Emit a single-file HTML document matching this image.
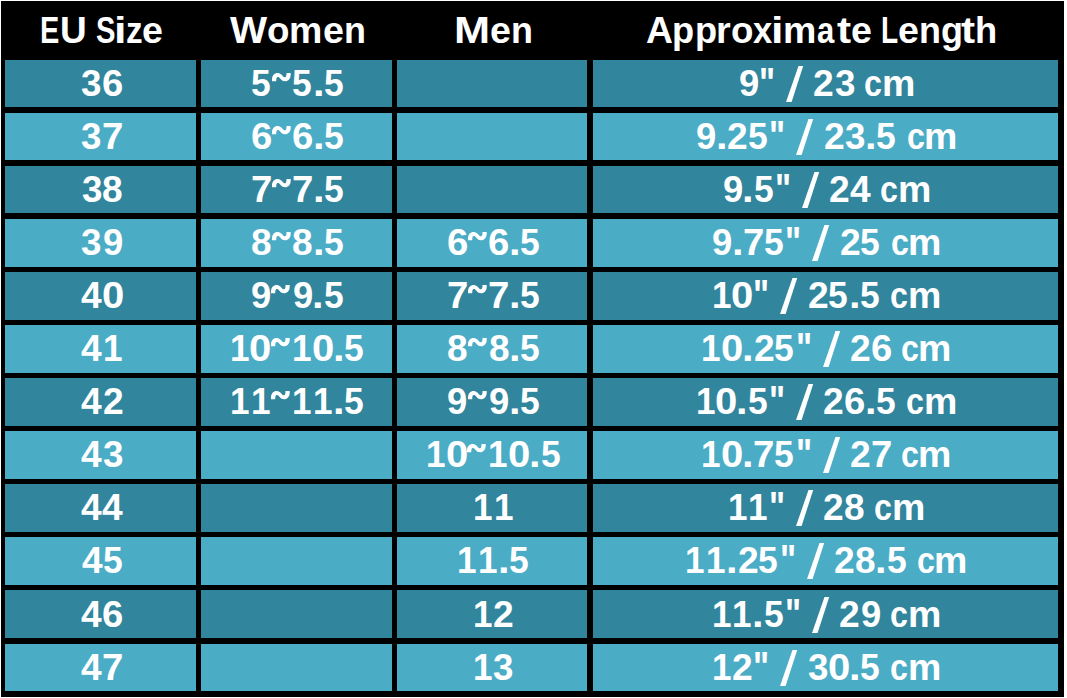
<!DOCTYPE html>
<html><head><meta charset="utf-8"><title>EU Size Chart</title><style>
html,body{margin:0;padding:0;background:#fff}
body{width:1067px;height:698px;position:relative;overflow:hidden}
#bg{position:absolute;left:1px;top:1px;width:1063px;height:696px;background:#000}
.c{position:absolute}
.d{background:#31859c}
.l{background:#4bacc6}
b{position:absolute;font-family:"Liberation Sans",sans-serif;font-weight:bold;font-size:36.8px;line-height:50px;color:#fff;transform-origin:0 0;white-space:pre}
svg{position:absolute;overflow:visible}
</style></head><body>
<div id="bg"></div>
<div class="c d" style="left:5px;top:60px;width:191px;height:47px"></div>
<div class="c d" style="left:201px;top:60px;width:191px;height:47px"></div>
<div class="c d" style="left:397px;top:60px;width:190px;height:47px"></div>
<div class="c d" style="left:593px;top:60px;width:465px;height:47px"></div>
<div class="c l" style="left:5px;top:113px;width:191px;height:47px"></div>
<div class="c l" style="left:201px;top:113px;width:191px;height:47px"></div>
<div class="c l" style="left:397px;top:113px;width:190px;height:47px"></div>
<div class="c l" style="left:593px;top:113px;width:465px;height:47px"></div>
<div class="c d" style="left:5px;top:166px;width:191px;height:47px"></div>
<div class="c d" style="left:201px;top:166px;width:191px;height:47px"></div>
<div class="c d" style="left:397px;top:166px;width:190px;height:47px"></div>
<div class="c d" style="left:593px;top:166px;width:465px;height:47px"></div>
<div class="c l" style="left:5px;top:219px;width:191px;height:48px"></div>
<div class="c l" style="left:201px;top:219px;width:191px;height:48px"></div>
<div class="c l" style="left:397px;top:219px;width:190px;height:48px"></div>
<div class="c l" style="left:593px;top:219px;width:465px;height:48px"></div>
<div class="c d" style="left:5px;top:272px;width:191px;height:48px"></div>
<div class="c d" style="left:201px;top:272px;width:191px;height:48px"></div>
<div class="c d" style="left:397px;top:272px;width:190px;height:48px"></div>
<div class="c d" style="left:593px;top:272px;width:465px;height:48px"></div>
<div class="c l" style="left:5px;top:325px;width:191px;height:48px"></div>
<div class="c l" style="left:201px;top:325px;width:191px;height:48px"></div>
<div class="c l" style="left:397px;top:325px;width:190px;height:48px"></div>
<div class="c l" style="left:593px;top:325px;width:465px;height:48px"></div>
<div class="c d" style="left:5px;top:378px;width:191px;height:48px"></div>
<div class="c d" style="left:201px;top:378px;width:191px;height:48px"></div>
<div class="c d" style="left:397px;top:378px;width:190px;height:48px"></div>
<div class="c d" style="left:593px;top:378px;width:465px;height:48px"></div>
<div class="c l" style="left:5px;top:431px;width:191px;height:48px"></div>
<div class="c l" style="left:201px;top:431px;width:191px;height:48px"></div>
<div class="c l" style="left:397px;top:431px;width:190px;height:48px"></div>
<div class="c l" style="left:593px;top:431px;width:465px;height:48px"></div>
<div class="c d" style="left:5px;top:484px;width:191px;height:48px"></div>
<div class="c d" style="left:201px;top:484px;width:191px;height:48px"></div>
<div class="c d" style="left:397px;top:484px;width:190px;height:48px"></div>
<div class="c d" style="left:593px;top:484px;width:465px;height:48px"></div>
<div class="c l" style="left:5px;top:537px;width:191px;height:48px"></div>
<div class="c l" style="left:201px;top:537px;width:191px;height:48px"></div>
<div class="c l" style="left:397px;top:537px;width:190px;height:48px"></div>
<div class="c l" style="left:593px;top:537px;width:465px;height:48px"></div>
<div class="c d" style="left:5px;top:590px;width:191px;height:48px"></div>
<div class="c d" style="left:201px;top:590px;width:191px;height:48px"></div>
<div class="c d" style="left:397px;top:590px;width:190px;height:48px"></div>
<div class="c d" style="left:593px;top:590px;width:465px;height:48px"></div>
<div class="c l" style="left:5px;top:644px;width:191px;height:47px"></div>
<div class="c l" style="left:201px;top:644px;width:191px;height:47px"></div>
<div class="c l" style="left:397px;top:644px;width:190px;height:47px"></div>
<div class="c l" style="left:593px;top:644px;width:465px;height:47px"></div>
<b style="left:40.18px;top:6px;transform:scaleX(0.785)">E</b>
<b style="left:59.96px;top:6px;transform:scaleX(1.004)">U</b>
<b style="left:96.01px;top:6px;transform:scaleX(0.793)">S</b>
<b style="left:114.33px;top:6px;transform:scaleX(1.220)">i</b>
<b style="left:125.64px;top:6px;transform:scaleX(0.903)">z</b>
<b style="left:142.05px;top:6px;transform:scaleX(1.023)">e</b>
<b style="left:229.65px;top:6px;transform:scaleX(1.067)">W</b>
<b style="left:266.83px;top:6px;transform:scaleX(0.999)">o</b>
<b style="left:289.33px;top:6px;transform:scaleX(1.019)">m</b>
<b style="left:322.62px;top:6px;transform:scaleX(1.023)">e</b>
<b style="left:343.73px;top:6px;transform:scaleX(0.977)">n</b>
<b style="left:453.99px;top:6px;transform:scaleX(1.177)">M</b>
<b style="left:489.94px;top:6px;transform:scaleX(1.023)">e</b>
<b style="left:511.06px;top:6px;transform:scaleX(0.977)">n</b>
<b style="left:646.29px;top:6px;transform:scaleX(1.013)">A</b>
<b style="left:672.43px;top:6px;transform:scaleX(0.984)">p</b>
<b style="left:694.60px;top:6px;transform:scaleX(0.984)">p</b>
<b style="left:716.40px;top:6px;transform:scaleX(1.023)">r</b>
<b style="left:731.13px;top:6px;transform:scaleX(0.999)">o</b>
<b style="left:753.27px;top:6px;transform:scaleX(0.942)">x</b>
<b style="left:771.15px;top:6px;transform:scaleX(1.220)">i</b>
<b style="left:782.75px;top:6px;transform:scaleX(1.019)">m</b>
<b style="left:816.80px;top:6px;transform:scaleX(0.844)">a</b>
<b style="left:836.52px;top:6px;transform:scaleX(1.150)">t</b>
<b style="left:850.75px;top:6px;transform:scaleX(1.023)">e</b>
<b style="left:881.38px;top:6px;transform:scaleX(0.764)">L</b>
<b style="left:898.34px;top:6px;transform:scaleX(1.023)">e</b>
<b style="left:919.45px;top:6px;transform:scaleX(0.977)">n</b>
<b style="left:940.93px;top:6px;transform:scaleX(0.978)">g</b>
<b style="left:960.97px;top:6px;transform:scaleX(1.150)">t</b>
<b style="left:975.34px;top:6px;transform:scaleX(0.987)">h</b>
<b style="left:81.34px;top:59px;transform:scaleX(0.999)">3</b>
<b style="left:101.73px;top:59px;transform:scaleX(1.039)">6</b>
<b style="left:250.69px;top:59px;transform:scaleX(0.962)">5</b>
<svg style="left:271.89px;top:73.10px" width="18.7" height="8.3"><path fill="#fff" transform="scale(1.0000 1.0000)" d="M0 8.3L0 6.5C0 2.5 2.5 0 5.5 0C8 0 9.5 1.5 10.5 2.8C11.5 4 12.2 4.3 13 4.3C14 4.3 14.5 3 14.5 0L18.7 0L18.7 1.8C18.7 5.8 16.2 8.3 13.2 8.3C10.7 8.3 9.2 6.8 8.2 5.5C7.2 4.3 6.5 4 5.7 4C4.7 4 4.2 5.3 4.2 8.3Z"/></svg>
<b style="left:292.19px;top:59px;transform:scaleX(0.962)">5</b>
<b style="left:312.87px;top:59px;transform:scaleX(1.129)">.</b>
<b style="left:324.16px;top:59px;transform:scaleX(0.962)">5</b>
<b style="left:738.68px;top:59px;transform:scaleX(0.990)">9</b>
<b style="left:758.99px;top:55.28px;transform:scale(0.922,1.139)">"</b>
<svg style="left:785.94px;top:66.30px" width="17.2" height="36.0"><path fill="#fff" d="M12.50 0L17.20 0L5.60 36.00L0 36.00Z"/></svg>
<b style="left:813.28px;top:59px;transform:scaleX(1.011)">2</b>
<b style="left:834.60px;top:59px;transform:scaleX(0.999)">3</b>
<b style="left:864.18px;top:59px;transform:scaleX(0.875)">c</b>
<b style="left:881.72px;top:59px;transform:scaleX(1.019)">m</b>
<b style="left:81.43px;top:112px;transform:scaleX(0.999)">3</b>
<b style="left:101.80px;top:112px;transform:scaleX(1.042)">7</b>
<b style="left:250.72px;top:112px;transform:scaleX(1.039)">6</b>
<svg style="left:271.81px;top:126.10px" width="18.7" height="8.3"><path fill="#fff" transform="scale(1.0000 1.0000)" d="M0 8.3L0 6.5C0 2.5 2.5 0 5.5 0C8 0 9.5 1.5 10.5 2.8C11.5 4 12.2 4.3 13 4.3C14 4.3 14.5 3 14.5 0L18.7 0L18.7 1.8C18.7 5.8 16.2 8.3 13.2 8.3C10.7 8.3 9.2 6.8 8.2 5.5C7.2 4.3 6.5 4 5.7 4C4.7 4 4.2 5.3 4.2 8.3Z"/></svg>
<b style="left:292.22px;top:112px;transform:scaleX(1.039)">6</b>
<b style="left:312.79px;top:112px;transform:scaleX(1.129)">.</b>
<b style="left:324.08px;top:112px;transform:scaleX(0.962)">5</b>
<b style="left:696.25px;top:112px;transform:scaleX(0.990)">9</b>
<b style="left:715.81px;top:112px;transform:scaleX(1.129)">.</b>
<b style="left:727.35px;top:112px;transform:scaleX(1.011)">2</b>
<b style="left:748.03px;top:112px;transform:scaleX(0.962)">5</b>
<b style="left:769.45px;top:108.28px;transform:scale(0.922,1.139)">"</b>
<svg style="left:796.41px;top:119.30px" width="17.2" height="36.0"><path fill="#fff" d="M12.50 0L17.20 0L5.60 36.00L0 36.00Z"/></svg>
<b style="left:823.75px;top:112px;transform:scaleX(1.011)">2</b>
<b style="left:845.07px;top:112px;transform:scaleX(0.999)">3</b>
<b style="left:865.10px;top:112px;transform:scaleX(1.129)">.</b>
<b style="left:876.39px;top:112px;transform:scaleX(0.962)">5</b>
<b style="left:906.61px;top:112px;transform:scaleX(0.875)">c</b>
<b style="left:924.15px;top:112px;transform:scaleX(1.019)">m</b>
<b style="left:81.50px;top:165px;transform:scaleX(0.999)">3</b>
<b style="left:101.96px;top:165px;transform:scaleX(1.007)">8</b>
<b style="left:250.55px;top:165px;transform:scaleX(1.042)">7</b>
<svg style="left:271.66px;top:179.10px" width="18.7" height="8.3"><path fill="#fff" transform="scale(1.0000 1.0000)" d="M0 8.3L0 6.5C0 2.5 2.5 0 5.5 0C8 0 9.5 1.5 10.5 2.8C11.5 4 12.2 4.3 13 4.3C14 4.3 14.5 3 14.5 0L18.7 0L18.7 1.8C18.7 5.8 16.2 8.3 13.2 8.3C10.7 8.3 9.2 6.8 8.2 5.5C7.2 4.3 6.5 4 5.7 4C4.7 4 4.2 5.3 4.2 8.3Z"/></svg>
<b style="left:292.05px;top:165px;transform:scaleX(1.042)">7</b>
<b style="left:312.64px;top:165px;transform:scaleX(1.129)">.</b>
<b style="left:323.93px;top:165px;transform:scaleX(0.962)">5</b>
<b style="left:722.70px;top:165px;transform:scaleX(0.990)">9</b>
<b style="left:742.26px;top:165px;transform:scaleX(1.129)">.</b>
<b style="left:753.55px;top:165px;transform:scaleX(0.962)">5</b>
<b style="left:774.97px;top:161.28px;transform:scale(0.922,1.139)">"</b>
<svg style="left:801.93px;top:172.30px" width="17.2" height="36.0"><path fill="#fff" d="M12.50 0L17.20 0L5.60 36.00L0 36.00Z"/></svg>
<b style="left:829.26px;top:165px;transform:scaleX(1.011)">2</b>
<b style="left:849.74px;top:165px;transform:scaleX(1.010)">4</b>
<b style="left:880.16px;top:165px;transform:scaleX(0.875)">c</b>
<b style="left:897.70px;top:165px;transform:scaleX(1.019)">m</b>
<b style="left:81.33px;top:218px;transform:scaleX(0.999)">3</b>
<b style="left:102.73px;top:218px;transform:scaleX(0.990)">9</b>
<b style="left:250.85px;top:218px;transform:scaleX(1.007)">8</b>
<svg style="left:271.87px;top:232.10px" width="18.7" height="8.3"><path fill="#fff" transform="scale(1.0000 1.0000)" d="M0 8.3L0 6.5C0 2.5 2.5 0 5.5 0C8 0 9.5 1.5 10.5 2.8C11.5 4 12.2 4.3 13 4.3C14 4.3 14.5 3 14.5 0L18.7 0L18.7 1.8C18.7 5.8 16.2 8.3 13.2 8.3C10.7 8.3 9.2 6.8 8.2 5.5C7.2 4.3 6.5 4 5.7 4C4.7 4 4.2 5.3 4.2 8.3Z"/></svg>
<b style="left:292.35px;top:218px;transform:scaleX(1.007)">8</b>
<b style="left:312.85px;top:218px;transform:scaleX(1.129)">.</b>
<b style="left:324.14px;top:218px;transform:scaleX(0.962)">5</b>
<b style="left:446.92px;top:218px;transform:scaleX(1.039)">6</b>
<svg style="left:468.01px;top:232.10px" width="18.7" height="8.3"><path fill="#fff" transform="scale(1.0000 1.0000)" d="M0 8.3L0 6.5C0 2.5 2.5 0 5.5 0C8 0 9.5 1.5 10.5 2.8C11.5 4 12.2 4.3 13 4.3C14 4.3 14.5 3 14.5 0L18.7 0L18.7 1.8C18.7 5.8 16.2 8.3 13.2 8.3C10.7 8.3 9.2 6.8 8.2 5.5C7.2 4.3 6.5 4 5.7 4C4.7 4 4.2 5.3 4.2 8.3Z"/></svg>
<b style="left:488.42px;top:218px;transform:scaleX(1.039)">6</b>
<b style="left:508.99px;top:218px;transform:scaleX(1.129)">.</b>
<b style="left:520.28px;top:218px;transform:scaleX(0.962)">5</b>
<b style="left:712.23px;top:218px;transform:scaleX(0.990)">9</b>
<b style="left:731.79px;top:218px;transform:scaleX(1.129)">.</b>
<b style="left:743.17px;top:218px;transform:scaleX(1.042)">7</b>
<b style="left:764.02px;top:218px;transform:scaleX(0.962)">5</b>
<b style="left:785.44px;top:214.28px;transform:scale(0.922,1.139)">"</b>
<svg style="left:812.39px;top:225.30px" width="17.2" height="36.0"><path fill="#fff" d="M12.50 0L17.20 0L5.60 36.00L0 36.00Z"/></svg>
<b style="left:839.73px;top:218px;transform:scaleX(1.011)">2</b>
<b style="left:860.41px;top:218px;transform:scaleX(0.962)">5</b>
<b style="left:890.63px;top:218px;transform:scaleX(0.875)">c</b>
<b style="left:908.17px;top:218px;transform:scaleX(1.019)">m</b>
<b style="left:81.07px;top:271px;transform:scaleX(1.010)">4</b>
<b style="left:101.60px;top:271px;transform:scaleX(1.089)">0</b>
<b style="left:251.28px;top:271px;transform:scaleX(0.990)">9</b>
<svg style="left:271.37px;top:285.10px" width="18.7" height="8.3"><path fill="#fff" transform="scale(1.0000 1.0000)" d="M0 8.3L0 6.5C0 2.5 2.5 0 5.5 0C8 0 9.5 1.5 10.5 2.8C11.5 4 12.2 4.3 13 4.3C14 4.3 14.5 3 14.5 0L18.7 0L18.7 1.8C18.7 5.8 16.2 8.3 13.2 8.3C10.7 8.3 9.2 6.8 8.2 5.5C7.2 4.3 6.5 4 5.7 4C4.7 4 4.2 5.3 4.2 8.3Z"/></svg>
<b style="left:292.78px;top:271px;transform:scaleX(0.990)">9</b>
<b style="left:312.35px;top:271px;transform:scaleX(1.129)">.</b>
<b style="left:323.63px;top:271px;transform:scaleX(0.962)">5</b>
<b style="left:446.75px;top:271px;transform:scaleX(1.042)">7</b>
<svg style="left:467.86px;top:285.10px" width="18.7" height="8.3"><path fill="#fff" transform="scale(1.0000 1.0000)" d="M0 8.3L0 6.5C0 2.5 2.5 0 5.5 0C8 0 9.5 1.5 10.5 2.8C11.5 4 12.2 4.3 13 4.3C14 4.3 14.5 3 14.5 0L18.7 0L18.7 1.8C18.7 5.8 16.2 8.3 13.2 8.3C10.7 8.3 9.2 6.8 8.2 5.5C7.2 4.3 6.5 4 5.7 4C4.7 4 4.2 5.3 4.2 8.3Z"/></svg>
<b style="left:488.25px;top:271px;transform:scaleX(1.042)">7</b>
<b style="left:508.84px;top:271px;transform:scaleX(1.129)">.</b>
<b style="left:520.13px;top:271px;transform:scaleX(0.962)">5</b>
<b style="left:711.56px;top:271px;transform:scaleX(0.954)">1</b>
<b style="left:731.18px;top:271px;transform:scaleX(1.089)">0</b>
<b style="left:753.21px;top:267.28px;transform:scale(0.922,1.139)">"</b>
<svg style="left:780.17px;top:278.30px" width="17.2" height="36.0"><path fill="#fff" d="M12.50 0L17.20 0L5.60 36.00L0 36.00Z"/></svg>
<b style="left:807.50px;top:271px;transform:scaleX(1.011)">2</b>
<b style="left:828.18px;top:271px;transform:scaleX(0.962)">5</b>
<b style="left:848.86px;top:271px;transform:scaleX(1.129)">.</b>
<b style="left:860.15px;top:271px;transform:scaleX(0.962)">5</b>
<b style="left:890.37px;top:271px;transform:scaleX(0.875)">c</b>
<b style="left:907.91px;top:271px;transform:scaleX(1.019)">m</b>
<b style="left:81.43px;top:324px;transform:scaleX(1.010)">4</b>
<b style="left:103.27px;top:324px;transform:scaleX(0.954)">1</b>
<b style="left:229.68px;top:324px;transform:scaleX(0.954)">1</b>
<b style="left:249.30px;top:324px;transform:scaleX(1.089)">0</b>
<svg style="left:271.11px;top:338.10px" width="18.7" height="8.3"><path fill="#fff" transform="scale(1.0000 1.0000)" d="M0 8.3L0 6.5C0 2.5 2.5 0 5.5 0C8 0 9.5 1.5 10.5 2.8C11.5 4 12.2 4.3 13 4.3C14 4.3 14.5 3 14.5 0L18.7 0L18.7 1.8C18.7 5.8 16.2 8.3 13.2 8.3C10.7 8.3 9.2 6.8 8.2 5.5C7.2 4.3 6.5 4 5.7 4C4.7 4 4.2 5.3 4.2 8.3Z"/></svg>
<b style="left:292.11px;top:324px;transform:scaleX(0.954)">1</b>
<b style="left:311.73px;top:324px;transform:scaleX(1.089)">0</b>
<b style="left:333.02px;top:324px;transform:scaleX(1.129)">.</b>
<b style="left:344.30px;top:324px;transform:scaleX(0.962)">5</b>
<b style="left:447.05px;top:324px;transform:scaleX(1.007)">8</b>
<svg style="left:468.07px;top:338.10px" width="18.7" height="8.3"><path fill="#fff" transform="scale(1.0000 1.0000)" d="M0 8.3L0 6.5C0 2.5 2.5 0 5.5 0C8 0 9.5 1.5 10.5 2.8C11.5 4 12.2 4.3 13 4.3C14 4.3 14.5 3 14.5 0L18.7 0L18.7 1.8C18.7 5.8 16.2 8.3 13.2 8.3C10.7 8.3 9.2 6.8 8.2 5.5C7.2 4.3 6.5 4 5.7 4C4.7 4 4.2 5.3 4.2 8.3Z"/></svg>
<b style="left:488.55px;top:324px;transform:scaleX(1.007)">8</b>
<b style="left:509.05px;top:324px;transform:scaleX(1.129)">.</b>
<b style="left:520.34px;top:324px;transform:scaleX(0.962)">5</b>
<b style="left:701.10px;top:324px;transform:scaleX(0.954)">1</b>
<b style="left:720.71px;top:324px;transform:scaleX(1.089)">0</b>
<b style="left:742.00px;top:324px;transform:scaleX(1.129)">.</b>
<b style="left:753.54px;top:324px;transform:scaleX(1.011)">2</b>
<b style="left:774.22px;top:324px;transform:scaleX(0.962)">5</b>
<b style="left:795.64px;top:320.28px;transform:scale(0.922,1.139)">"</b>
<svg style="left:822.60px;top:331.30px" width="17.2" height="36.0"><path fill="#fff" d="M12.50 0L17.20 0L5.60 36.00L0 36.00Z"/></svg>
<b style="left:849.93px;top:324px;transform:scaleX(1.011)">2</b>
<b style="left:870.72px;top:324px;transform:scaleX(1.039)">6</b>
<b style="left:900.83px;top:324px;transform:scaleX(0.875)">c</b>
<b style="left:918.37px;top:324px;transform:scaleX(1.019)">m</b>
<b style="left:81.37px;top:377px;transform:scaleX(1.010)">4</b>
<b style="left:102.75px;top:377px;transform:scaleX(1.011)">2</b>
<b style="left:229.68px;top:377px;transform:scaleX(0.954)">1</b>
<b style="left:250.61px;top:377px;transform:scaleX(0.954)">1</b>
<svg style="left:271.11px;top:391.10px" width="18.7" height="8.3"><path fill="#fff" transform="scale(1.0000 1.0000)" d="M0 8.3L0 6.5C0 2.5 2.5 0 5.5 0C8 0 9.5 1.5 10.5 2.8C11.5 4 12.2 4.3 13 4.3C14 4.3 14.5 3 14.5 0L18.7 0L18.7 1.8C18.7 5.8 16.2 8.3 13.2 8.3C10.7 8.3 9.2 6.8 8.2 5.5C7.2 4.3 6.5 4 5.7 4C4.7 4 4.2 5.3 4.2 8.3Z"/></svg>
<b style="left:292.11px;top:377px;transform:scaleX(0.954)">1</b>
<b style="left:313.04px;top:377px;transform:scaleX(0.954)">1</b>
<b style="left:333.02px;top:377px;transform:scaleX(1.129)">.</b>
<b style="left:344.30px;top:377px;transform:scaleX(0.962)">5</b>
<b style="left:447.48px;top:377px;transform:scaleX(0.990)">9</b>
<svg style="left:467.57px;top:391.10px" width="18.7" height="8.3"><path fill="#fff" transform="scale(1.0000 1.0000)" d="M0 8.3L0 6.5C0 2.5 2.5 0 5.5 0C8 0 9.5 1.5 10.5 2.8C11.5 4 12.2 4.3 13 4.3C14 4.3 14.5 3 14.5 0L18.7 0L18.7 1.8C18.7 5.8 16.2 8.3 13.2 8.3C10.7 8.3 9.2 6.8 8.2 5.5C7.2 4.3 6.5 4 5.7 4C4.7 4 4.2 5.3 4.2 8.3Z"/></svg>
<b style="left:488.98px;top:377px;transform:scaleX(0.990)">9</b>
<b style="left:508.55px;top:377px;transform:scaleX(1.129)">.</b>
<b style="left:519.83px;top:377px;transform:scaleX(0.962)">5</b>
<b style="left:695.58px;top:377px;transform:scaleX(0.954)">1</b>
<b style="left:715.20px;top:377px;transform:scaleX(1.089)">0</b>
<b style="left:736.48px;top:377px;transform:scaleX(1.129)">.</b>
<b style="left:747.77px;top:377px;transform:scaleX(0.962)">5</b>
<b style="left:769.19px;top:373.28px;transform:scale(0.922,1.139)">"</b>
<svg style="left:796.15px;top:384.30px" width="17.2" height="36.0"><path fill="#fff" d="M12.50 0L17.20 0L5.60 36.00L0 36.00Z"/></svg>
<b style="left:823.48px;top:377px;transform:scaleX(1.011)">2</b>
<b style="left:844.27px;top:377px;transform:scaleX(1.039)">6</b>
<b style="left:864.84px;top:377px;transform:scaleX(1.129)">.</b>
<b style="left:876.13px;top:377px;transform:scaleX(0.962)">5</b>
<b style="left:906.35px;top:377px;transform:scaleX(0.875)">c</b>
<b style="left:923.89px;top:377px;transform:scaleX(1.019)">m</b>
<b style="left:81.23px;top:430px;transform:scaleX(1.010)">4</b>
<b style="left:103.00px;top:430px;transform:scaleX(0.999)">3</b>
<b style="left:425.88px;top:430px;transform:scaleX(0.954)">1</b>
<b style="left:445.50px;top:430px;transform:scaleX(1.089)">0</b>
<svg style="left:467.31px;top:444.10px" width="18.7" height="8.3"><path fill="#fff" transform="scale(1.0000 1.0000)" d="M0 8.3L0 6.5C0 2.5 2.5 0 5.5 0C8 0 9.5 1.5 10.5 2.8C11.5 4 12.2 4.3 13 4.3C14 4.3 14.5 3 14.5 0L18.7 0L18.7 1.8C18.7 5.8 16.2 8.3 13.2 8.3C10.7 8.3 9.2 6.8 8.2 5.5C7.2 4.3 6.5 4 5.7 4C4.7 4 4.2 5.3 4.2 8.3Z"/></svg>
<b style="left:488.31px;top:430px;transform:scaleX(0.954)">1</b>
<b style="left:507.93px;top:430px;transform:scaleX(1.089)">0</b>
<b style="left:529.22px;top:430px;transform:scaleX(1.129)">.</b>
<b style="left:540.50px;top:430px;transform:scaleX(0.962)">5</b>
<b style="left:701.10px;top:430px;transform:scaleX(0.954)">1</b>
<b style="left:720.71px;top:430px;transform:scaleX(1.089)">0</b>
<b style="left:742.00px;top:430px;transform:scaleX(1.129)">.</b>
<b style="left:753.37px;top:430px;transform:scaleX(1.042)">7</b>
<b style="left:774.22px;top:430px;transform:scaleX(0.962)">5</b>
<b style="left:795.64px;top:426.28px;transform:scale(0.922,1.139)">"</b>
<svg style="left:822.60px;top:437.30px" width="17.2" height="36.0"><path fill="#fff" d="M12.50 0L17.20 0L5.60 36.00L0 36.00Z"/></svg>
<b style="left:849.93px;top:430px;transform:scaleX(1.011)">2</b>
<b style="left:870.70px;top:430px;transform:scaleX(1.042)">7</b>
<b style="left:900.83px;top:430px;transform:scaleX(0.875)">c</b>
<b style="left:918.37px;top:430px;transform:scaleX(1.019)">m</b>
<b style="left:80.96px;top:483px;transform:scaleX(1.010)">4</b>
<b style="left:101.90px;top:483px;transform:scaleX(1.010)">4</b>
<b style="left:472.80px;top:483px;transform:scaleX(0.954)">1</b>
<b style="left:493.74px;top:483px;transform:scaleX(0.954)">1</b>
<b style="left:727.54px;top:483px;transform:scaleX(0.954)">1</b>
<b style="left:748.48px;top:483px;transform:scaleX(0.954)">1</b>
<b style="left:769.19px;top:479.28px;transform:scale(0.922,1.139)">"</b>
<svg style="left:796.15px;top:490.30px" width="17.2" height="36.0"><path fill="#fff" d="M12.50 0L17.20 0L5.60 36.00L0 36.00Z"/></svg>
<b style="left:823.48px;top:483px;transform:scaleX(1.011)">2</b>
<b style="left:844.34px;top:483px;transform:scaleX(1.007)">8</b>
<b style="left:874.38px;top:483px;transform:scaleX(0.875)">c</b>
<b style="left:891.93px;top:483px;transform:scaleX(1.019)">m</b>
<b style="left:81.70px;top:536px;transform:scaleX(1.010)">4</b>
<b style="left:102.84px;top:536px;transform:scaleX(0.962)">5</b>
<b style="left:457.10px;top:536px;transform:scaleX(0.954)">1</b>
<b style="left:478.03px;top:536px;transform:scaleX(0.954)">1</b>
<b style="left:498.00px;top:536px;transform:scaleX(1.129)">.</b>
<b style="left:509.29px;top:536px;transform:scaleX(0.962)">5</b>
<b style="left:685.11px;top:536px;transform:scaleX(0.954)">1</b>
<b style="left:706.05px;top:536px;transform:scaleX(0.954)">1</b>
<b style="left:726.02px;top:536px;transform:scaleX(1.129)">.</b>
<b style="left:737.56px;top:536px;transform:scaleX(1.011)">2</b>
<b style="left:758.24px;top:536px;transform:scaleX(0.962)">5</b>
<b style="left:779.66px;top:532.28px;transform:scale(0.922,1.139)">"</b>
<svg style="left:806.61px;top:543.30px" width="17.2" height="36.0"><path fill="#fff" d="M12.50 0L17.20 0L5.60 36.00L0 36.00Z"/></svg>
<b style="left:833.95px;top:536px;transform:scaleX(1.011)">2</b>
<b style="left:854.81px;top:536px;transform:scaleX(1.007)">8</b>
<b style="left:875.31px;top:536px;transform:scaleX(1.129)">.</b>
<b style="left:886.59px;top:536px;transform:scaleX(0.962)">5</b>
<b style="left:916.81px;top:536px;transform:scaleX(0.875)">c</b>
<b style="left:934.35px;top:536px;transform:scaleX(1.019)">m</b>
<b style="left:81.10px;top:590px;transform:scaleX(1.010)">4</b>
<b style="left:102.34px;top:590px;transform:scaleX(1.039)">6</b>
<b style="left:472.74px;top:590px;transform:scaleX(0.954)">1</b>
<b style="left:493.22px;top:590px;transform:scaleX(1.011)">2</b>
<b style="left:711.56px;top:590px;transform:scaleX(0.954)">1</b>
<b style="left:732.49px;top:590px;transform:scaleX(0.954)">1</b>
<b style="left:752.46px;top:590px;transform:scaleX(1.129)">.</b>
<b style="left:763.75px;top:590px;transform:scaleX(0.962)">5</b>
<b style="left:785.17px;top:586.28px;transform:scale(0.922,1.139)">"</b>
<svg style="left:812.13px;top:597.30px" width="17.2" height="36.0"><path fill="#fff" d="M12.50 0L17.20 0L5.60 36.00L0 36.00Z"/></svg>
<b style="left:839.47px;top:590px;transform:scaleX(1.011)">2</b>
<b style="left:861.26px;top:590px;transform:scaleX(0.990)">9</b>
<b style="left:890.37px;top:590px;transform:scaleX(0.875)">c</b>
<b style="left:907.91px;top:590px;transform:scaleX(1.019)">m</b>
<b style="left:81.20px;top:643px;transform:scaleX(1.010)">4</b>
<b style="left:102.42px;top:643px;transform:scaleX(1.042)">7</b>
<b style="left:472.60px;top:643px;transform:scaleX(0.954)">1</b>
<b style="left:493.47px;top:643px;transform:scaleX(0.999)">3</b>
<b style="left:711.56px;top:643px;transform:scaleX(0.954)">1</b>
<b style="left:732.04px;top:643px;transform:scaleX(1.011)">2</b>
<b style="left:753.21px;top:639.28px;transform:scale(0.922,1.139)">"</b>
<svg style="left:780.17px;top:650.30px" width="17.2" height="36.0"><path fill="#fff" d="M12.50 0L17.20 0L5.60 36.00L0 36.00Z"/></svg>
<b style="left:807.89px;top:643px;transform:scaleX(0.999)">3</b>
<b style="left:827.57px;top:643px;transform:scaleX(1.089)">0</b>
<b style="left:848.86px;top:643px;transform:scaleX(1.129)">.</b>
<b style="left:860.15px;top:643px;transform:scaleX(0.962)">5</b>
<b style="left:890.37px;top:643px;transform:scaleX(0.875)">c</b>
<b style="left:907.91px;top:643px;transform:scaleX(1.019)">m</b>
</body></html>
